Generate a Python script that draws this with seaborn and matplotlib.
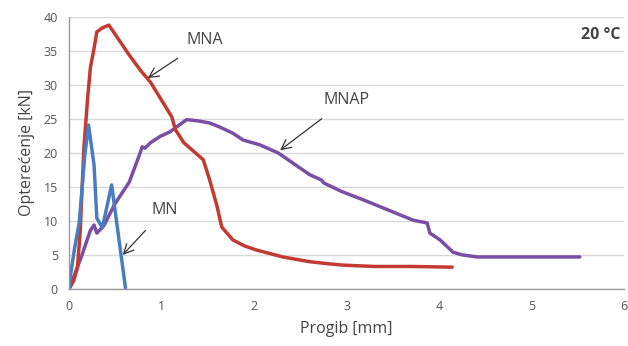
import matplotlib
matplotlib.use("Agg")
import matplotlib.pyplot as plt
import seaborn as sns
import pandas as pd

# MNA (red)
mna_x = [0.0, 0.05, 0.09, 0.12, 0.16, 0.20, 0.23, 0.27, 0.30, 0.36, 0.43, 0.50, 0.65, 0.78, 0.88, 1.02, 1.11, 1.15, 1.24, 1.35, 1.45, 1.52, 1.60, 1.65, 1.77, 1.90, 2.03, 2.31, 2.60, 2.80, 2.96, 3.30, 3.70, 4.14]
mna_y = [0.0, 1.2, 3.1, 8.4, 20.7, 28.0, 32.5, 35.4, 37.8, 38.4, 38.8, 37.4, 34.4, 32.0, 30.4, 27.3, 25.3, 23.4, 21.5, 20.2, 19.0, 16.0, 12.1, 9.1, 7.2, 6.3, 5.7, 4.7, 4.0, 3.7, 3.5, 3.3, 3.3, 3.2]

# MN (blue)
mn_x = [0.0, 0.01, 0.06, 0.11, 0.17, 0.21, 0.27, 0.30, 0.36, 0.46, 0.61]
mn_y = [0.0, 1.6, 6.0, 9.8, 19.7, 24.1, 18.2, 10.4, 9.0, 15.3, 0.1]

# MNAP (purple)
mnap_x = [0.0, 0.14, 0.23, 0.27, 0.30, 0.38, 0.49, 0.65, 0.76, 0.79, 0.82, 0.88, 0.98, 1.09, 1.27, 1.40, 1.52, 1.63, 1.77, 1.88, 2.06, 2.26, 2.42, 2.60, 2.73, 2.75, 2.95, 3.18, 3.45, 3.72, 3.87, 3.90, 4.01, 4.15, 4.25, 4.41, 4.80, 5.20, 5.52]
mnap_y = [0.0, 5.0, 8.6, 9.4, 8.2, 9.4, 12.4, 15.7, 19.7, 20.9, 20.7, 21.5, 22.4, 23.1, 24.9, 24.7, 24.4, 23.8, 22.9, 21.9, 21.2, 20.0, 18.5, 16.8, 16.0, 15.6, 14.3, 13.1, 11.6, 10.1, 9.7, 8.2, 7.2, 5.4, 5.0, 4.7, 4.7, 4.7, 4.7]

sns.set_theme(style="white")
plt.rcParams['font.family'] = ['Open Sans', 'DejaVu Sans']

fig = plt.figure(figsize=(6.28, 3.46), dpi=100)
ax = fig.add_axes([0.110, 0.165, 0.884, 0.786])

ax.yaxis.grid(True, color="#d9d9d9", linewidth=1.0)
ax.set_axisbelow(True)

df_mna = pd.DataFrame({"x": mna_x, "y": mna_y})
df_mn = pd.DataFrame({"x": mn_x, "y": mn_y})
df_mnap = pd.DataFrame({"x": mnap_x, "y": mnap_y})

lw = 2.5
sns.lineplot(data=df_mnap, x="x", y="y", ax=ax, color="#7b4ea6", linewidth=lw, sort=False, estimator=None)
sns.lineplot(data=df_mna, x="x", y="y", ax=ax, color="#c23a32", linewidth=lw, sort=False, estimator=None)
sns.lineplot(data=df_mn, x="x", y="y", ax=ax, color="#4a7cc0", linewidth=lw, sort=False, estimator=None)

ax.set_xlim(0, 6)
ax.set_ylim(0, 40)
ax.set_xticks(range(0, 7))
ax.set_yticks(range(0, 41, 5))

for s in ["top", "right"]:
    ax.spines[s].set_visible(False)
for s in ["left", "bottom"]:
    ax.spines[s].set_color("#999999")
    ax.spines[s].set_linewidth(1.0)
ax.tick_params(axis="both", colors="#555555", labelsize=9, length=4, width=0.8, direction="out", pad=4)
ax.tick_params(axis="both", color="#999999")

ax.set_xlabel("Progib [mm]", fontsize=11.5, color="#444444", labelpad=6)
ax.set_ylabel("Opterećenje [kN]", fontsize=11.5, color="#444444", labelpad=6)

ap = dict(arrowstyle="->,head_length=0.6,head_width=0.3", color="#333333", linewidth=0.9, shrinkA=9, shrinkB=0)
ax.annotate("MNA", xy=(0.85, 31.0), xytext=(1.47, 36.6), fontsize=11.5, color="#444444",
            ha="center", va="center", arrowprops=ap)
ax.annotate("MNAP", xy=(2.28, 20.4), xytext=(3.0, 27.8), fontsize=11.5, color="#444444",
            ha="center", va="center", arrowprops=ap)
ax.annotate("MN", xy=(0.58, 5.0), xytext=(1.03, 11.6), fontsize=11.5, color="#444444",
            ha="center", va="center", arrowprops=ap)

ax.text(5.96, 37.3, "20 °C", fontsize=11.5, fontweight="bold", color="#444444", ha="right", va="center")

fig.savefig("out.png", dpi=100)
